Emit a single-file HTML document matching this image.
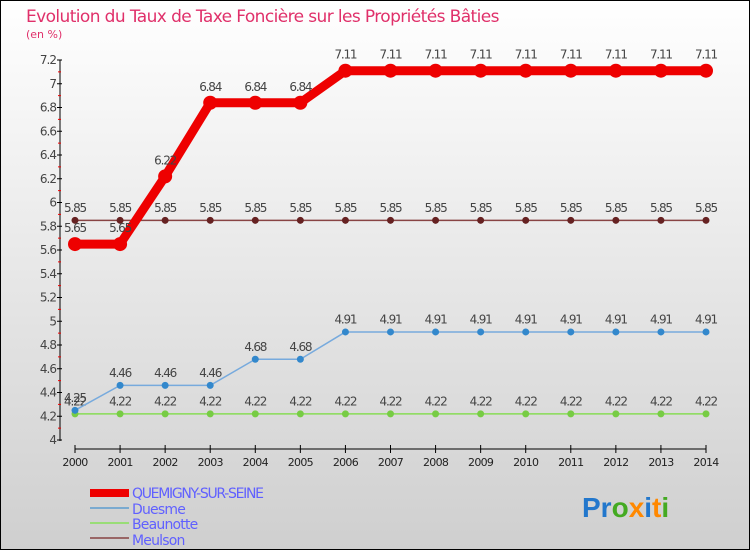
<!DOCTYPE html>
<html><head><meta charset="utf-8"><style>
body{margin:0;}
#c{width:750px;height:550px;position:relative;font-family:"DejaVu Sans","Liberation Sans",sans-serif;}
</style></head><body>
<div id="c">
<svg id="s" width="750" height="550" xmlns="http://www.w3.org/2000/svg">
<defs><linearGradient id="bg" x1="0" y1="0" x2="0" y2="1"><stop offset="0" stop-color="#ffffff"/><stop offset="1" stop-color="#cfcfcf"/></linearGradient></defs>
<rect x="0.5" y="0.5" width="749" height="549" fill="url(#bg)" stroke="#000"/>
<text x="26" y="22" font-size="17" letter-spacing="-0.6" fill="#e0306a">Evolution du Taux de Taxe Foncière sur les Propriétés Bâties</text>
<text x="26" y="38" font-size="11" fill="#e0306a">(en %)</text>
<g id="axes"></g><g id="series"></g>
<g font-size="14" fill="#6060ff">
<rect x="90" y="489" width="39" height="8" fill="#e00"/>
<text x="132" y="498" fill="#6060ff" letter-spacing="-1.3">QUEMIGNY-SUR-SEINE</text>
<line x1="90" y1="508" x2="129" y2="508" stroke="#7aaad0" stroke-width="2"/>
<text x="132" y="514" fill="#6060ff" letter-spacing="-0.8">Duesme</text>
<line x1="90" y1="523" x2="129" y2="523" stroke="#99dd77" stroke-width="2"/>
<text x="132" y="529" fill="#6060ff" letter-spacing="-0.8">Beaunotte</text>
<line x1="90" y1="538" x2="129" y2="538" stroke="#996666" stroke-width="2"/>
<text x="132" y="545" fill="#6060ff" letter-spacing="-0.8">Meulson</text>
</g>
<g font-size="28" font-weight="bold" font-family="Liberation Sans,sans-serif">
<text x="582" y="517"><tspan fill="#2277cc">Pr</tspan><tspan fill="#44aa22">o</tspan><tspan fill="#ff8800">x</tspan><tspan fill="#2277cc">i</tspan><tspan fill="#ff8800">t</tspan><tspan fill="#44aa22">i</tspan></text>
</g>
</svg></div>
<script>
const years=[2000,2001,2002,2003,2004,2005,2006,2007,2008,2009,2010,2011,2012,2013,2014];
const yTicks=[4,4.2,4.4,4.6,4.8,5,5.2,5.4,5.6,5.8,6,6.2,6.4,6.6,6.8,7,7.2];
const quemigny=[5.65,5.65,6.22,6.84,6.84,6.84,7.11,7.11,7.11,7.11,7.11,7.11,7.11,7.11,7.11];
const duesme=[4.25,4.46,4.46,4.46,4.68,4.68,4.91,4.91,4.91,4.91,4.91,4.91,4.91,4.91,4.91];
const beaunotte=[4.22,4.22,4.22,4.22,4.22,4.22,4.22,4.22,4.22,4.22,4.22,4.22,4.22,4.22,4.22];
const meulson=[5.85,5.85,5.85,5.85,5.85,5.85,5.85,5.85,5.85,5.85,5.85,5.85,5.85,5.85,5.85];
const NS="http://www.w3.org/2000/svg";
const X=i=>75+i*(706-75)/14;
const Y=v=>440-(v-4)*(440-60)/3.2;
function mk(t,a,p){const e=document.createElementNS(NS,t);for(const k in a)e.setAttribute(k,a[k]);p.appendChild(e);return e;}
const ax=document.getElementById('axes');
const ya=mk('line',{x1:60,y1:60,x2:60,y2:441,stroke:'#000'},ax);


const xa=mk('line',{x1:75,y1:449,x2:706,y2:449,stroke:'#000'},ax);


yTicks.forEach((v,i)=>{
 mk('line',{x1:57,y1:Y(v),x2:62,y2:Y(v),stroke:'#000'},ax);
 if(i<yTicks.length-1)mk('line',{x1:58,y1:Y(v+0.1),x2:61,y2:Y(v+0.1),stroke:'#e00'},ax);
 const t=mk('text',{x:56,y:Y(v)+4,'text-anchor':'end','font-size':12,fill:'#444','letter-spacing':'-1'},ax);
 t.textContent=String(v);
 
 
});
years.forEach((y,i)=>{
 mk('line',{x1:X(i),y1:445,x2:X(i),y2:453,stroke:'#000'},ax);
 const t=mk('text',{x:X(i),y:466,'text-anchor':'middle','font-size':11,fill:'#222','letter-spacing':'-0.7'},ax);
 t.textContent=y;
 
 
});
const sg=document.getElementById('series');
function series(name,data,col,w,r,mcol){
 const g=mk('g',{},sg);
 
 
 mk('polyline',{points:data.map((v,i)=>X(i)+','+Y(v)).join(' '),fill:'none',stroke:col,'stroke-width':w,'stroke-linejoin':'round'},g);
 data.forEach((v,i)=>{
  const c=mk('circle',{cx:X(i),cy:Y(v),r:r,fill:mcol},g);
  
  
  const t=mk('text',{x:X(i),y:Y(v)-(r+5),'text-anchor':'middle','font-size':12,fill:'#444','letter-spacing':'-1.2'},g);
  t.textContent=String(v);
  
  
 });
}
series('meulson',meulson,'#884444',1.5,3.5,'#662222');
series('beaunotte',beaunotte,'#88dd55',1.5,3.5,'#77cc44');
series('duesme',duesme,'#77aadd',1.5,3.5,'#3388cc');
series('quemigny',quemigny,'#ee0000',9,7,'#ee0000');
</script>
</body></html>
